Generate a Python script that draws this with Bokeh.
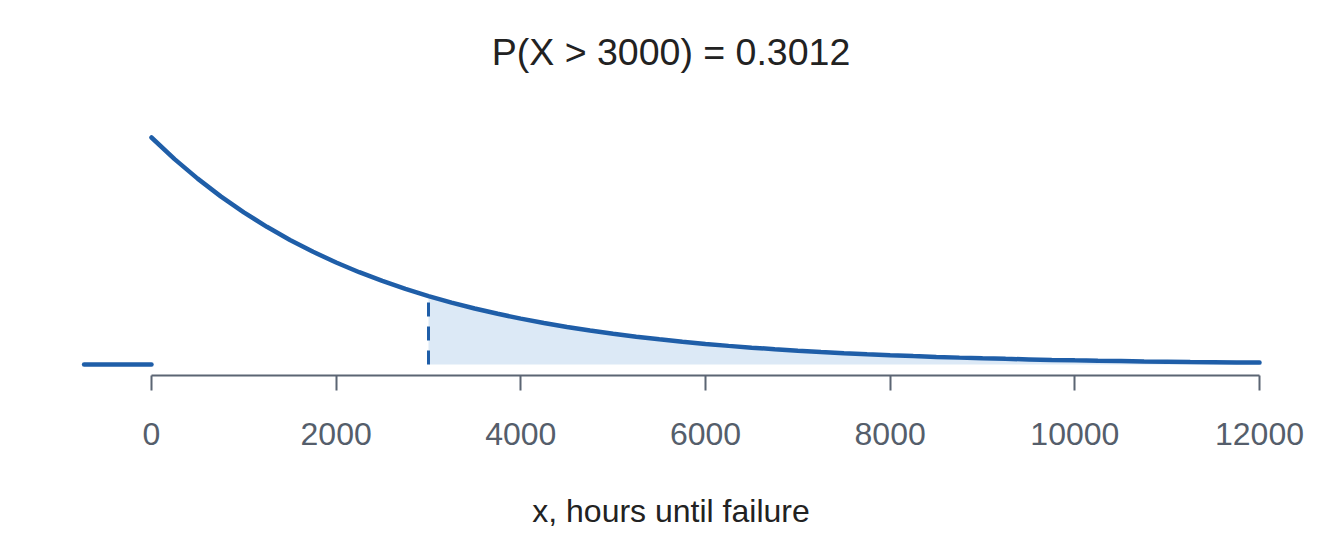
from bokeh.plotting import figure
from bokeh.embed import file_html
from bokeh.resources import INLINE
from bokeh.models import Range1d, FixedTicker, Title

x_vals = [0, 250, 500, 750, 1000, 1250, 1500, 1750, 2000, 2250, 2500, 2750,
          3000, 3250, 3500, 3750, 4000, 4250, 4500, 4750, 5000, 5250, 5500, 5750,
          6000, 6250, 6500, 6750, 7000, 7250, 7500, 7750, 8000, 8250, 8500, 8750,
          9000, 9250, 9500, 9750, 10000, 10250, 10500, 10750, 11000, 11250, 11500,
          11750, 12000]
density = [0.0004000, 0.0003619, 0.0003275, 0.0002963, 0.0002681, 0.0002426,
           0.0002195, 0.0001986, 0.0001797, 0.0001626, 0.0001472, 0.0001332,
           0.0001205, 0.0001090, 0.0000986, 0.0000893, 0.0000808, 0.0000731,
           0.0000661, 0.0000598, 0.0000541, 0.0000490, 0.0000443, 0.0000401,
           0.0000363, 0.0000328, 0.0000297, 0.0000269, 0.0000243, 0.0000220,
           0.0000199, 0.0000180, 0.0000163, 0.0000148, 0.0000134, 0.0000121,
           0.0000109, 0.0000099, 0.0000090, 0.0000081, 0.0000073, 0.0000066,
           0.0000060, 0.0000054, 0.0000049, 0.0000044, 0.0000040, 0.0000036,
           0.0000033]
left_x = [-730, 0]
left_y = [0, 0]
cutoff = 3000
tick_vals = [0, 2000, 4000, 6000, 8000, 10000, 12000]
title_text = "P(X > 3000) = 0.3012"
x_label = "x, hours until failure"

LINE = "#1f5ea8"
FILL = "#dce9f6"
AXIS = "#5b6573"
FONT = "Liberation Sans"

p = figure(width=1328, height=537, output_backend="svg", toolbar_location=None,
           x_range=Range1d(-877, 12130), y_range=Range1d(-0.0000194, 0.0004652),
           min_border_left=70, min_border_right=57, min_border_top=100,
           min_border_bottom=162)
p.outline_line_color = None
p.grid.grid_line_color = None
p.yaxis.visible = False
p.background_fill_color = "white"
p.border_fill_color = "white"

t = Title(text=title_text, align="center", text_font=FONT, text_font_size="37.5px",
          text_color="#222222", text_font_style="normal", standoff=56)
p.title = t

# shaded tail
sx = [x for x in x_vals if x >= cutoff]
sy = [d for x, d in zip(x_vals, density) if x >= cutoff]
p.varea(x=sx, y1=[0] * len(sx), y2=sy, fill_color=FILL)

cut_y = density[x_vals.index(cutoff)]
p.line(x=[cutoff, cutoff], y=[0, cut_y], line_color=LINE, line_width=3,
       line_dash="14 10")

p.line(x=x_vals, y=density, line_color=LINE, line_width=4.5, line_cap="round")
p.line(x=left_x, y=left_y, line_color=LINE, line_width=4.5, line_cap="round")

ax = p.xaxis[0]
ax.ticker = FixedTicker(ticks=tick_vals)
ax.bounds = (0, 12000)
ax.axis_line_color = AXIS
ax.axis_line_width = 2
ax.major_tick_line_color = AXIS
ax.major_tick_line_width = 2
ax.major_tick_out = 15
ax.major_tick_in = 0
ax.minor_tick_line_color = None
ax.major_label_text_font = FONT
ax.major_label_text_font_size = "32px"
ax.major_label_text_color = "#555e6b"
ax.major_label_standoff = 32
ax.axis_label = x_label
ax.axis_label_text_font = FONT
ax.axis_label_text_font_size = "32px"
ax.axis_label_text_font_style = "normal"
ax.axis_label_text_color = "#222222"
ax.axis_label_standoff = 45

open("out.html", "w").write(file_html(p, INLINE))
